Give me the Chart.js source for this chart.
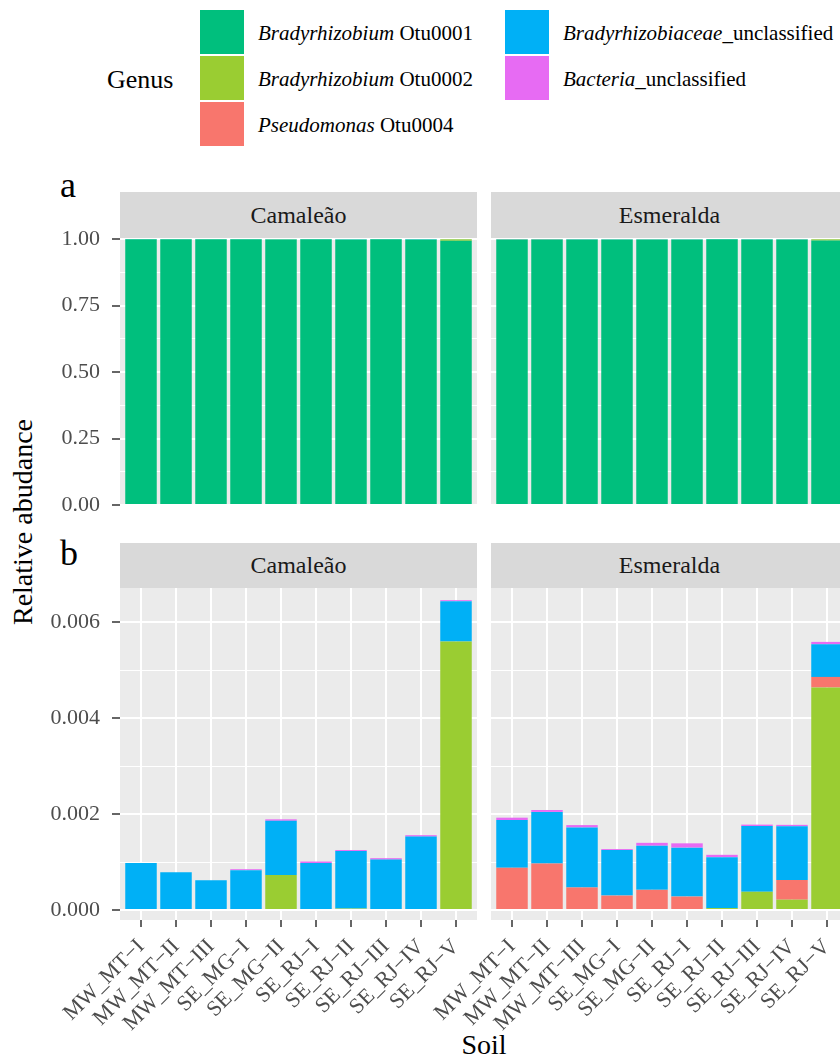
<!DOCTYPE html>
<html><head><meta charset="utf-8">
<script src="https://cdn.jsdelivr.net/npm/chart.js@4.4.1/dist/chart.umd.min.js"></script>
<style>
html,body{margin:0;padding:0;width:840px;height:1059px;overflow:hidden;background:#fff;font-family:"Liberation Serif","Times New Roman",serif;}
#wrap{position:relative;width:840px;height:1059px;overflow:hidden;}
canvas{position:absolute;}
.strip{position:absolute;background:#D9D9D9;color:#1A1A1A;font-size:24px;display:flex;align-items:center;justify-content:center;}
.txt{position:absolute;white-space:nowrap;color:#000;line-height:1;}
.key{position:absolute;width:44px;height:44px;}
.ltxt{position:absolute;white-space:nowrap;font-size:21px;color:#000;transform:translateY(-50%);line-height:1;}
</style></head><body><div id="wrap"></div>
<script>
// ---- data ----
const soils = ['MW_MT\u2212I','MW_MT\u2212II','MW_MT\u2212III','SE_MG\u2212I','SE_MG\u2212II','SE_RJ\u2212I','SE_RJ\u2212II','SE_RJ\u2212III','SE_RJ\u2212IV','SE_RJ\u2212V'];
const cultivars = ['Camaleão','Esmeralda'];
const seriesItalic = ['Bradyrhizobium','Bradyrhizobium','Pseudomonas','Bradyrhizobiaceae','Bacteria'];
const seriesRest = [' Otu0001',' Otu0002',' Otu0004','_unclassified','_unclassified'];
const seriesColors = ['#00BF7D','#9ACD32','#F8766D','#00B0F6','#E76BF3'];

const camOtu0001 = [0.99902, 0.99922, 0.99938, 0.99915, 0.99811, 0.99899, 0.99875, 0.99892, 0.99844, 0.99354];
const camOtu0002 = [0, 0, 0, 0, 0.00073, 0, 0.00003, 0, 0.00002, 0.0056];
const camPseudo = [0, 0, 0, 0, 0, 0, 0, 0, 0, 0];
const camBradyUncl = [0.00098, 0.000785, 0.00062, 0.00083, 0.00113, 0.00098, 0.0012, 0.00105, 0.00151, 0.00084];
const camBacteria = [0, 0, 0, 0.00002, 0.00003, 0.00003, 0.00002, 0.00003, 0.00003, 0.00002];

const esmOtu0001 = [0.998075, 0.997915, 0.99823, 0.99873, 0.9986, 0.99861, 0.99885, 0.99822, 0.998225, 0.99441];
const esmOtu0002 = [0, 0, 0, 0, 0, 0, 0.00004, 0.00038, 0.000215, 0.00464];
const esmPseudo = [0.00088, 0.00097, 0.00047, 0.0003, 0.00042, 0.00028, 0, 0, 0.00041, 0.00022];
const esmBradyUncl = [0.000995, 0.001075, 0.00125, 0.00095, 0.00092, 0.00102, 0.00106, 0.00137, 0.00112, 0.00068];
const esmBacteria = [0.00005, 0.00004, 0.00005, 0.00002, 0.00006, 0.00009, 0.00005, 0.00003, 0.00003, 0.00005];

const ticksA = [0, 0.125, 0.25, 0.375, 0.5, 0.625, 0.75, 0.875, 1];
const ticksB = [0, 0.001, 0.002, 0.003, 0.004, 0.005, 0.006];

// ---- layout ----
const FONT = '"Liberation Serif","Times New Roman",serif';
const wrap = document.getElementById('wrap');
function addText(html, css, cls){ const d=document.createElement('div'); d.className=cls||'txt'; d.innerHTML=html; Object.assign(d.style, css); wrap.appendChild(d); return d; }

// legend
const legendPos = [[200,10],[200,56],[200,102],[505,10],[505,56]];
seriesColors.forEach((c,i)=>{
  const [x,y]=legendPos[i];
  const k=document.createElement('div'); k.className='key'; k.style.left=x+'px'; k.style.top=y+'px'; k.style.background=c; wrap.appendChild(k);
  addText('<i>'+seriesItalic[i]+'</i>'+seriesRest[i], {left:(x+58)+'px', top:(y+23)+'px'}, 'ltxt');
});
addText('Genus', {left:'107px', top:'80px', fontSize:'26px', transform:'translateY(-50%)'});
addText('a', {left:'60px', top:'185px', fontSize:'36px', transform:'translateY(-50%)'});
addText('b', {left:'60px', top:'553px', fontSize:'36px', transform:'translateY(-50%)'});
addText('Relative abudance', {left:'23px', top:'522px', fontSize:'28px', transform:'translate(-50%,-50%) rotate(-90deg)'});
addText('Soil', {left:'484px', top:'1045px', fontSize:'28px', transform:'translate(-50%,-50%)'});

const panelsX = [[120,477],[491,848]];
const stripsY = [[192,238],[543,588]];
stripsY.forEach(([t,b])=>panelsX.forEach(([l,r],i)=>{
  const s=document.createElement('div'); s.className='strip';
  Object.assign(s.style,{left:l+'px',top:t+'px',width:(r-l)+'px',height:(b-t)+'px'});
  s.textContent=cultivars[i]; wrap.appendChild(s);
}));

// ---- charts ----
const bgPlugin = {id:'bg', beforeDraw(chart){const {ctx, chartArea:a}=chart; ctx.save(); ctx.fillStyle='#EBEBEB'; ctx.fillRect(a.left,a.top,a.right-a.left,a.bottom-a.top); ctx.restore();}};

function ds(values, colorIdx){
  return {label: seriesItalic[colorIdx]+seriesRest[colorIdx], data: values.map((v,i)=>({x:i+1,y:v})),
    backgroundColor: seriesColors[colorIdx], borderWidth:0, barPercentage:0.9, categoryPercentage:1.0};
}
function yScale(min,max,tickVals,isMajor,fmt,showLabels){
  return {type:'linear', min, max, stacked:true,
    afterBuildTicks: s => { s.ticks = tickVals.map(v=>({value:v})); },
    afterFit: s => { s.width = showLabels ? 120 : 0; },
    grid:{color:'#FFFFFF', lineWidth: c => (c.tick && isMajor(c.tick.value)) ? 2 : 1,
      drawTicks: showLabels, tickLength:8, tickWidth:1.5,
      tickColor: c => (c.tick && isMajor(c.tick.value)) ? '#333333' : 'rgba(0,0,0,0)'},
    border:{display:false},
    ticks:{display:showLabels, padding:12, color:'#4D4D4D', font:{family:FONT, size:22},
      callback: v => isMajor(v) ? fmt(v) : ''}
  };
}
function xScale(showLabels){
  return {type:'linear', min:0.4, max:10.6, stacked:true, offset:false,
    afterBuildTicks: s => { s.ticks = soils.map((_,i)=>({value:i+1})); },
    afterFit: s => { s.height = showLabels ? 120 : 0; },
    grid:{color:'#FFFFFF', lineWidth:2, offset:false, drawTicks:showLabels, tickLength:7, tickWidth:1.5, tickColor:'#333333'},
    border:{display:false},
    ticks:{display:showLabels, autoSkip:false, minRotation:45, maxRotation:45, padding:7, color:'#4D4D4D',
      font:{family:FONT, size:22}, callback: v => soils[Math.round(v)-1] ?? ''}
  };
}
function makeChart(box, padding, datasets, x, y){
  const c=document.createElement('canvas');
  c.width=box.w; c.height=box.h; c.style.left=box.l+'px'; c.style.top=box.t+'px';
  wrap.appendChild(c);
  return new Chart(c, {type:'bar', data:{datasets},
    options:{responsive:false, maintainAspectRatio:false, animation:false, devicePixelRatio:1,
      layout:{padding},
      plugins:{legend:{display:false}, tooltip:{enabled:false}},
      scales:{x, y}},
    plugins:[bgPlugin]});
}
const majorA = v => Math.round(v*1000) % 250 === 0;
const majorB = v => Math.round(v*1000) % 2 === 0;
const fmtA = v => v.toFixed(2), fmtB = v => v.toFixed(3);

// panel a
makeChart({l:0,t:208,w:487,h:327},{top:30,bottom:30,left:0,right:10},
  [ds(camOtu0001,0),ds(camOtu0002,1),ds(camPseudo,2),ds(camBradyUncl,3),ds(camBacteria,4)],
  xScale(false), yScale(0,1.004,ticksA,majorA,fmtA,true));
makeChart({l:461,t:208,w:397,h:327},{top:30,bottom:30,left:30,right:10},
  [ds(esmOtu0001,0),ds(esmOtu0002,1),ds(esmPseudo,2),ds(esmBradyUncl,3),ds(esmBacteria,4)],
  xScale(false), yScale(0,1.004,ticksA,majorA,fmtA,false));
// panel b
makeChart({l:0,t:558,w:487,h:482},{top:30,bottom:0,left:0,right:10},
  [ds(camOtu0002,1),ds(camPseudo,2),ds(camBradyUncl,3),ds(camBacteria,4)],
  xScale(true), yScale(-0.000209,0.006714,ticksB,majorB,fmtB,true));
makeChart({l:411,t:558,w:447,h:482},{top:30,bottom:0,left:80,right:10},
  [ds(esmOtu0002,1),ds(esmPseudo,2),ds(esmBradyUncl,3),ds(esmBacteria,4)],
  xScale(true), yScale(-0.000209,0.006714,ticksB,majorB,fmtB,false));
</script></body></html>
